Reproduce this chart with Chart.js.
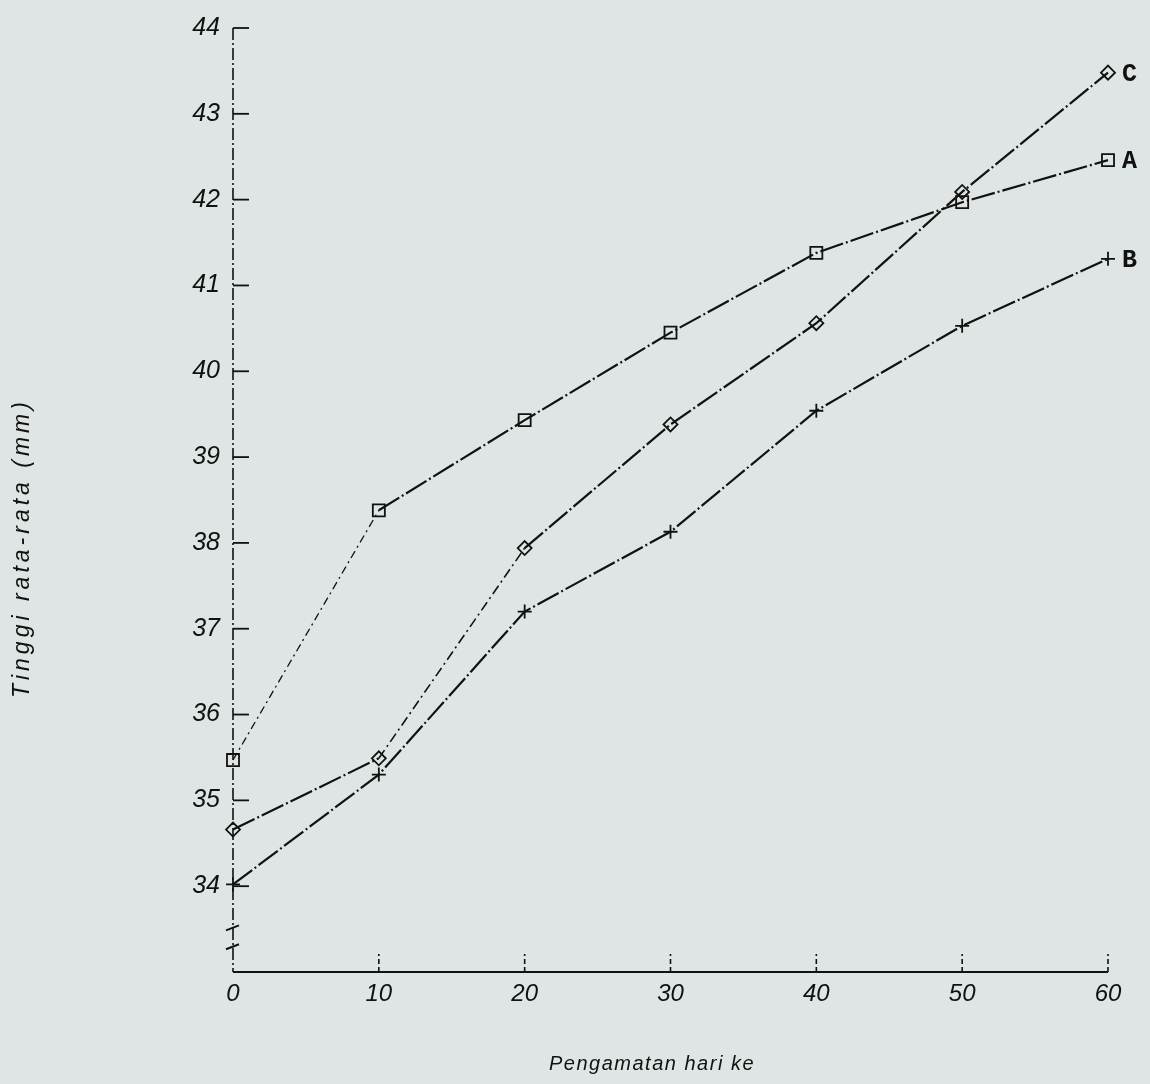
<!DOCTYPE html>
<html>
<head>
<meta charset="utf-8">
<script src="https://cdn.jsdelivr.net/npm/chart.js@4"></script>
<style>
  html, body { margin: 0; padding: 0; background: #dfe5e4; }
  #wrap { width: 1150px; height: 1084px; }
</style>
</head>
<body>
<div id="wrap"><canvas id="grafik" width="1150" height="1084"></canvas></div>
<script>
// data
const hari = [0, 10, 20, 30, 40, 50, 60];
const perlakuanA = [35.47, 38.38, 39.43, 40.45, 41.38, 41.97, 42.46];
const perlakuanB = [34.02, 35.30, 37.20, 38.13, 39.54, 40.53, 41.31];
const perlakuanC = [34.66, 35.49, 37.94, 39.38, 40.56, 42.09, 43.48];
const yTicks = [34, 35, 36, 37, 38, 39, 40, 41, 42, 43, 44];

const judulX = 'Pengamatan hari ke';
const judulY = 'Tinggi rata-rata (mm)';

const ink = '#111';
const fontSans = '"Liberation Sans", Arial, sans-serif';

function toXY(arr) {
    return arr.map((v, i) => ({ x: hari[i], y: v }));
}

// sumbu, tanda tick, patahan sumbu, judul sumbu dan huruf seri
const axisPlugin = {
    id: 'axisPlugin',
    afterDraw(chart) {
        const ctx = chart.ctx;
        const xs = chart.scales.x;
        const ys = chart.scales.y;
        const x0 = xs.getPixelForValue(0);
        const yBottom = ys.getPixelForValue(33);
        const yTop = ys.getPixelForValue(44);
        ctx.save();
        ctx.strokeStyle = ink;

        // sumbu y putus-putus
        ctx.lineWidth = 1.6;
        ctx.setLineDash([12, 3, 2, 3]);
        ctx.beginPath();
        ctx.moveTo(x0, yTop);
        ctx.lineTo(x0, yBottom);
        ctx.stroke();

        // sumbu x
        ctx.setLineDash([]);
        ctx.lineWidth = 2.2;
        ctx.beginPath();
        ctx.moveTo(x0, yBottom);
        ctx.lineTo(xs.getPixelForValue(60), yBottom);
        ctx.stroke();

        // tick y ke dalam
        ctx.lineWidth = 1.8;
        yTicks.forEach(v => {
            const py = ys.getPixelForValue(v);
            ctx.beginPath();
            ctx.moveTo(x0, py);
            ctx.lineTo(x0 + 16, py);
            ctx.stroke();
        });

        // tick x ke atas
        ctx.lineWidth = 1.6;
        ctx.setLineDash([5, 3]);
        hari.slice(1).forEach(v => {
            const px = xs.getPixelForValue(v);
            ctx.beginPath();
            ctx.moveTo(px, yBottom);
            ctx.lineTo(px, yBottom - 18);
            ctx.stroke();
        });
        ctx.setLineDash([]);

        // tanda patahan sumbu
        ctx.lineWidth = 2;
        [33.52, 33.3].forEach(v => {
            const py = ys.getPixelForValue(v);
            ctx.beginPath();
            ctx.moveTo(x0 - 7, py + 3);
            ctx.lineTo(x0 + 6, py - 2);
            ctx.stroke();
        });

        // judul sumbu
        ctx.fillStyle = ink;
        ctx.textAlign = 'center';
        ctx.textBaseline = 'middle';
        ctx.font = 'italic 20px ' + fontSans;
        ctx.letterSpacing = '1.5px';
        ctx.fillText(judulX, 652, 1064);
        ctx.save();
        ctx.translate(23, 548);
        ctx.rotate(-Math.PI / 2);
        ctx.font = 'italic 23px ' + fontSans;
        ctx.letterSpacing = '4px';
        ctx.fillText(judulY, 0, 0);
        ctx.restore();
        ctx.letterSpacing = '0px';

        // huruf seri di ujung kanan
        ctx.textAlign = 'left';
        ctx.font = 'bold 25px "Liberation Mono", "DejaVu Sans Mono", monospace';
        chart.data.datasets.forEach((ds, i) => {
            const meta = chart.getDatasetMeta(i);
            const pt = meta.data[meta.data.length - 1];
            ctx.fillText(ds.label, pt.x + 14, pt.y + 2);
        });
        ctx.restore();
    }
};

const mainDash = [24, 3, 2, 3];

const lineStyle = {
    borderColor: ink,
    borderWidth: 2.2,
    borderDash: mainDash,
    pointBorderColor: ink,
    pointBackgroundColor: 'rgba(0,0,0,0)',
    pointBorderWidth: 1.8,
    fill: false,
    tension: 0,
    clip: false
};

new Chart(document.getElementById('grafik'), {
    type: 'line',
    data: {
        datasets: [
            Object.assign({}, lineStyle, {
                label: 'C',
                data: toXY(perlakuanC),
                pointStyle: 'rectRot',
                pointRadius: 7,
                segment: {
                    borderDash: c => c.p0DataIndex === 1 ? [10, 4, 2, 4] : mainDash,
                    borderWidth: c => c.p0DataIndex === 1 ? 1.6 : 2.2
                }
            }),
            Object.assign({}, lineStyle, {
                label: 'A',
                data: toXY(perlakuanA),
                pointStyle: 'rect',
                pointRadius: 8.5,
                segment: {
                    borderDash: c => c.p0DataIndex === 0 ? [8, 4, 2, 4] : mainDash,
                    borderWidth: c => c.p0DataIndex === 0 ? 1.3 : 2.2
                }
            }),
            Object.assign({}, lineStyle, {
                label: 'B',
                data: toXY(perlakuanB),
                pointStyle: 'cross',
                pointRadius: 7
            })
        ]
    },
    options: {
        responsive: false,
        animation: false,
        layout: { padding: { left: 0, right: 42, top: 17, bottom: 0 } },
        plugins: {
            legend: { display: false },
            tooltip: { enabled: false }
        },
        scales: {
            x: {
                type: 'linear',
                min: 0,
                max: 60,
                afterFit: s => { s.height = 112; },
                grid: { display: false, drawTicks: false },
                border: { display: false },
                ticks: {
                    stepSize: 10,
                    padding: 8,
                    color: ink,
                    font: { family: fontSans, size: 24, style: 'italic' }
                },
                title: { display: false }
            },
            y: {
                type: 'linear',
                min: 33,
                max: 44,
                afterFit: s => { s.width = 233; },
                afterBuildTicks: s => { s.ticks = yTicks.map(v => ({ value: v })); },
                grid: { display: false, drawTicks: false },
                border: { display: false },
                ticks: {
                    padding: 13,
                    color: ink,
                    font: { family: fontSans, size: 25, style: 'italic' }
                },
                title: { display: false }
            }
        }
    },
    plugins: [axisPlugin]
});
</script>
</body>
</html>
